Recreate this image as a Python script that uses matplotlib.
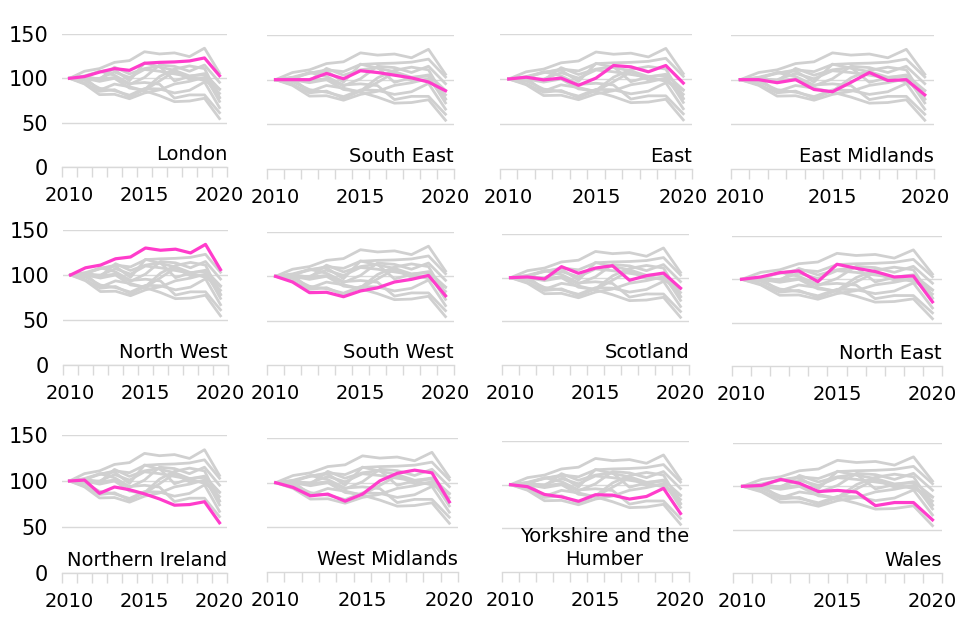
import matplotlib
matplotlib.use("Agg")
import matplotlib.pyplot as plt
import numpy as np

plt.rcParams['font.family'] = ['DejaVu Sans']

years = list(range(2010, 2021))
regions = ["London", "South East", "East", "East Midlands",
           "North West", "South West", "Scotland", "North East",
           "Northern Ireland", "West Midlands", "Yorkshire and the\nHumber", "Wales"]

london = [100, 102, 107, 111, 109, 117, 118, 118.5, 119.6, 123, 103]
south_east = [100, 100, 100, 107, 101, 110, 108, 105, 102, 97.4, 87.6]
east = [100, 102, 99, 101, 93, 101, 115, 113.5, 108, 115, 95.5]
east_midlands = [100, 100, 96.6, 100, 89, 86.5, 97, 108, 99, 100, 83]
north_west = [100, 108, 111, 118, 120, 130, 127.5, 128.7, 124.5, 134, 106]
south_west = [100, 93.6, 81.6, 82, 77, 83.5, 87, 93.6, 96.6, 101, 78]
scotland = [100, 100.8, 98.5, 112.6, 105, 111, 113.7, 97, 102.3, 105.3, 88]
north_east = [100, 102.7, 107.7, 109.7, 97.3, 117.4, 112.8, 109, 102.7, 103.9, 74]
northern_ireland = [100, 101, 86.6, 93.5, 90.5, 86, 80.5, 73.7, 74.4, 77.5, 54.6]
west_midlands = [100, 94.7, 85.3, 87.2, 79.3, 87.2, 102, 110.5, 114, 111, 78.6]
yorkshire = [100, 97.7, 88.8, 86, 81, 88.5, 88, 83.5, 86.5, 95.8, 67]
wales = [100, 101, 108, 103.5, 94, 95.3, 93.4, 77.7, 81.3, 81.3, 61.3]

series = [london, south_east, east, east_midlands,
          north_west, south_west, scotland, north_east,
          northern_ireland, west_midlands, yorkshire, wales]

yticks = [0, 50, 100, 150]
xlabels = {2010: "2010", 2015: "2015", 2020: "2020"}

# panel rectangles in pixels: (left, right, top(150), bottom(0))
W, H = 960, 640
rects = [
    (62, 227, 34, 167), (267, 454, 35, 169), (500, 692, 34, 169), (731, 934, 35, 169),
    (63, 228, 230, 365), (267, 454, 232, 365), (502, 689, 234, 365), (732, 942, 236, 366),
    (62, 227, 435, 573), (267, 458, 438, 572), (502, 689, 441, 572), (733, 942, 443, 573),
]

grey = "#d0d0d0"
pink = "#ff3ccb"
axcol = "#d9d9d9"

fig = plt.figure(figsize=(9.6, 6.4), dpi=100)
x = np.arange(len(years))
for i, (name, vals) in enumerate(zip(regions, series)):
    l, r, t, b = rects[i]
    ax = fig.add_axes([l / W, 1 - b / H, (r - l) / W, (b - t) / H])
    for j, other in enumerate(series):
        if j != i:
            ax.plot(x, other, color=grey, lw=2.0, zorder=2)
    ax.plot(x, vals, color=pink, lw=2.3, zorder=3)
    ax.set_xlim(-0.5, len(years) - 0.5)
    ax.set_ylim(0, 150)
    for s in ['top', 'right', 'left']:
        ax.spines[s].set_visible(False)
    ax.spines['bottom'].set_color(axcol)
    ax.spines['bottom'].set_linewidth(1.0)
    ax.set_yticks([50, 100, 150])
    ax.yaxis.grid(True, color=axcol, lw=1.0, zorder=0)
    ax.set_axisbelow(True)
    if i % 4 == 0:
        ax.set_yticks(yticks)
        ax.set_yticklabels([str(v) for v in yticks])
        ax.tick_params(axis='y', length=0, pad=10, labelsize=15)
    else:
        ax.tick_params(axis='y', length=0, labelleft=False)
    ax.set_xticks(x)
    ax.set_xticklabels([xlabels.get(yv, "") for yv in years])
    ax.set_xticks(np.arange(-0.5, len(years)), minor=True)
    ax.tick_params(axis='x', which='major', length=0, pad=14, labelsize=14)
    ax.tick_params(axis='x', which='minor', length=7, color=axcol, width=1.0)
    ax.text(len(years) - 0.5, 8, name, ha='right', va='baseline',
            multialignment='center', fontsize=14, color='black', zorder=4,
            linespacing=1.25)

fig.savefig("out.png", dpi=100)
